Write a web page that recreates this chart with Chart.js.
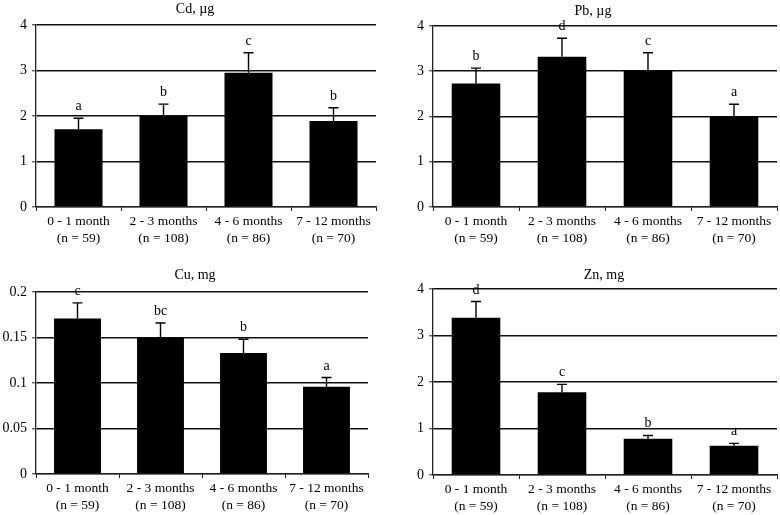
<!DOCTYPE html>
<html>
<head>
<meta charset="utf-8">
<title>Cd, Pb, Cu, Zn by age group</title>
<script src="https://cdn.jsdelivr.net/npm/chart.js@4.4.1/dist/chart.umd.min.js"></script>
<style>
  body { margin: 0; background: #fff; }
  #wrap { position: relative; width: 780px; height: 515px; }
  canvas { position: absolute; }
</style>
</head>
<body>
<div id="wrap">
  <canvas id="cd" width="390" height="258" style="left:0;top:0"></canvas>
  <canvas id="pb" width="390" height="258" style="left:390px;top:0"></canvas>
  <canvas id="cu" width="390" height="257" style="left:0;top:258px"></canvas>
  <canvas id="zn" width="390" height="257" style="left:390px;top:258px"></canvas>
</div>
<script>
'use strict';

// ***** DATA *****
const ageGroups = [
  ['0 - 1 month', '(n = 59)'],
  ['2 - 3 months', '(n = 108)'],
  ['4 - 6 months', '(n = 86)'],
  ['7 - 12 months', '(n = 70)']
];

const cdMeans = [1.71, 2.00, 2.95, 1.89];
const cdErrors = [0.24, 0.26, 0.44, 0.29];
const cdLetters = ['a', 'b', 'c', 'b'];
const cdTicks = ['0', '1', '2', '3', '4'];

const pbMeans = [2.73, 3.32, 3.02, 2.01];
const pbErrors = [0.34, 0.41, 0.39, 0.26];
const pbLetters = ['b', 'd', 'c', 'a'];
const pbTicks = ['0', '1', '2', '3', '4'];

const cuMeans = [0.171, 0.150, 0.133, 0.096];
const cuErrors = [0.017, 0.016, 0.015, 0.010];
const cuLetters = ['c', 'bc', 'b', 'a'];
const cuTicks = ['0', '0.05', '0.1', '0.15', '0.2'];

const znMeans = [3.38, 1.78, 0.78, 0.63];
const znErrors = [0.35, 0.17, 0.07, 0.05];
const znLetters = ['d', 'c', 'b', 'a'];
const znTicks = ['0', '1', '2', '3', '4'];

const FONT = 'Liberation Serif, Times New Roman, serif';

// ***** PANELS *****
const panels = [
  { id: 'cd', title: 'Cd, \u00b5g', means: cdMeans, errors: cdErrors, letters: cdLetters, ticks: cdTicks, max: 4, step: 1,
    area: { left: 36, right: 376, top: 25, bottom: 207 }, titleX: 195, titleY: 9 },
  { id: 'pb', title: 'Pb, \u00b5g', means: pbMeans, errors: pbErrors, letters: pbLetters, ticks: pbTicks, max: 4, step: 1,
    area: { left: 43, right: 387, top: 26, bottom: 207 }, titleX: 203, titleY: 11 },
  { id: 'cu', title: 'Cu, mg', means: cuMeans, errors: cuErrors, letters: cuLetters, ticks: cuTicks, max: 0.2, step: 0.05,
    area: { left: 36, right: 368, top: 34, bottom: 216 }, titleX: 195, titleY: 17 },
  { id: 'zn', title: 'Zn, mg', means: znMeans, errors: znErrors, letters: znLetters, ticks: znTicks, max: 4, step: 1,
    area: { left: 43, right: 387, top: 31, bottom: 217 }, titleX: 214, titleY: 17 }
];

// error bars, significance letters and panel title
const extrasPlugin = {
  id: 'extras',
  afterDatasetsDraw(chart, args, opts) {
    const ctx = chart.ctx;
    const meta = chart.getDatasetMeta(0);
    const yScale = chart.scales.y;
    ctx.save();
    ctx.strokeStyle = '#000';
    ctx.fillStyle = '#000';
    ctx.lineWidth = 1.4;
    ctx.font = '14px ' + FONT;
    ctx.textAlign = 'center';
    meta.data.forEach((bar, i) => {
      const topPx = yScale.getPixelForValue(opts.means[i] + opts.errors[i]);
      const basePx = yScale.getPixelForValue(opts.means[i]);
      ctx.beginPath();
      ctx.moveTo(bar.x, basePx);
      ctx.lineTo(bar.x, topPx);
      ctx.moveTo(bar.x - 5, topPx);
      ctx.lineTo(bar.x + 5, topPx);
      ctx.stroke();
      ctx.textBaseline = 'alphabetic';
      ctx.fillText(opts.letters[i], bar.x, topPx - 8);
    });
    ctx.textBaseline = 'middle';
    ctx.fillText(opts.title, opts.titleX, opts.titleY);
    ctx.restore();
  }
};

function renderPanel(p) {
  const canvas = document.getElementById(p.id);
  const W = canvas.width;
  const H = canvas.height;

  let config = {
    type: 'bar',
    data: {
      labels: ageGroups,
      datasets: [{
        data: p.means,
        backgroundColor: '#000',
        borderWidth: 0,
        categoryPercentage: 1,
        barPercentage: 0.565
      }]
    },
    options: {
      responsive: false,
      animation: false,
      events: [],
      layout: {
        padding: { left: 0, right: W - p.area.right, top: p.area.top, bottom: 0 }
      },
      scales: {
        x: {
          afterFit(scale) { scale.height = H - p.area.bottom; },
          grid: { drawOnChartArea: false, drawTicks: true, tickLength: 4, color: '#222', lineWidth: 1 },
          border: { display: true, color: '#222', width: 1.3 },
          ticks: {
            autoSkip: false, maxRotation: 0, padding: 2, color: '#000',
            font: { family: FONT, size: 13.5, lineHeight: 1.27 }
          }
        },
        y: {
          min: 0,
          max: p.max,
          afterFit(scale) { scale.width = p.area.left; },
          grid: { color: '#111', lineWidth: 1.6, tickLength: 4, tickColor: '#222', tickWidth: 1 },
          border: { display: true, color: '#222', width: 1.3 },
          ticks: {
            stepSize: p.step, padding: 5, color: '#000',
            font: { family: FONT, size: 14 },
            callback: (value, index) => p.ticks[index]
          }
        }
      },
      plugins: {
        legend: { display: false },
        tooltip: { enabled: false },
        extras: { means: p.means, errors: p.errors, letters: p.letters, title: p.title, titleX: p.titleX, titleY: p.titleY }
      }
    },
    plugins: [extrasPlugin]
  };

  new Chart(canvas.getContext('2d'), config); //eslint-disable-line
}

// ***** EXECUTABLE CODE *****
panels.forEach(renderPanel);
</script>
</body>
</html>
